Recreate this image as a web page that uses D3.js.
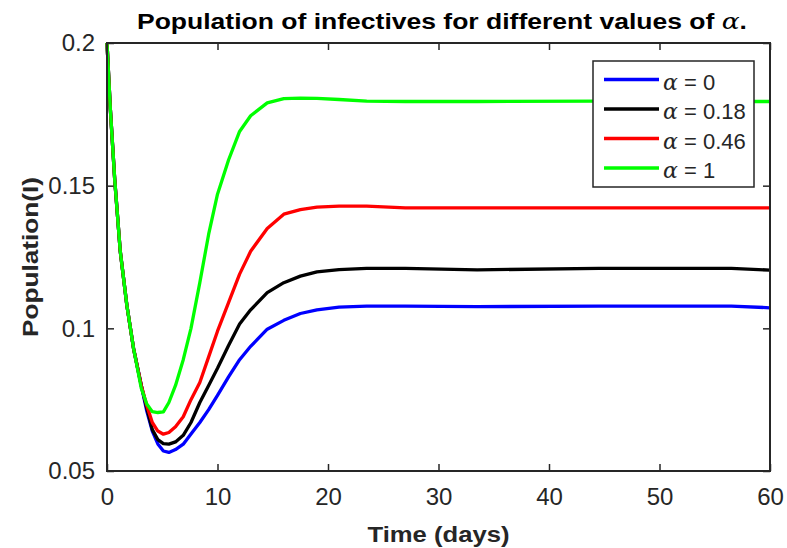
<!DOCTYPE html>
<html>
<head>
<meta charset="utf-8">
<script src="https://cdn.jsdelivr.net/npm/d3@7"></script>
<style>
  body { margin: 0; background: #fff; }
  text { font-family: "Liberation Sans", Arial, Helvetica, sans-serif; }
</style>
</head>
<body>
<svg id="chart" width="787" height="548"></svg>
<script>
// time samples (days) shared by all series
const days = [0, 0.3, 0.7, 1.2, 1.8, 2.4, 3.1, 3.6, 4.1, 4.6, 5.1, 5.6, 6.2, 6.9, 7.6, 8.4, 9.2, 10, 11, 12, 13, 14.5, 16, 17.5, 19, 21, 23.5, 27, 33.5, 44.5, 56.5, 60];

// infective population for each alpha
const alpha0 = [0.2, 0.177, 0.152, 0.127, 0.108, 0.093, 0.080, 0.071, 0.064, 0.0595, 0.057, 0.0565, 0.0575, 0.0594, 0.063, 0.067, 0.0715, 0.0765, 0.083, 0.089, 0.0937, 0.0997, 0.1028, 0.1052, 0.1065, 0.1074, 0.1078, 0.1078, 0.1076, 0.1078, 0.1078, 0.1072];
const alpha018 = [0.2, 0.177, 0.152, 0.127, 0.108, 0.093, 0.080, 0.072, 0.0645, 0.061, 0.0596, 0.0594, 0.0602, 0.0625, 0.067, 0.074, 0.080, 0.086, 0.094, 0.1015, 0.1065, 0.1125, 0.116, 0.1183, 0.1198, 0.1206, 0.121, 0.121, 0.1205, 0.121, 0.121, 0.1204];
const alpha046 = [0.2, 0.177, 0.152, 0.127, 0.108, 0.093, 0.080, 0.073, 0.067, 0.064, 0.0629, 0.0635, 0.0655, 0.069, 0.075, 0.081, 0.090, 0.099, 0.109, 0.119, 0.127, 0.135, 0.140, 0.1416, 0.1425, 0.1428, 0.1428, 0.1422, 0.1422, 0.1422, 0.1422, 0.1422];
const alpha1 = [0.2, 0.177, 0.152, 0.127, 0.108, 0.093, 0.079, 0.0735, 0.0708, 0.0705, 0.0707, 0.074, 0.080, 0.089, 0.100, 0.116, 0.133, 0.147, 0.159, 0.169, 0.1745, 0.179, 0.1805, 0.1807, 0.1806, 0.1802, 0.1796, 0.1795, 0.1795, 0.1796, 0.1795, 0.1795];

const seriesNames = ["0", "0.18", "0.46", "1"];
const seriesColors = ["#0000ff", "#000000", "#ff0000", "#00ff00"];
const seriesValues = [alpha0, alpha018, alpha046, alpha1];

const xTicks = [0, 10, 20, 30, 40, 50, 60];
const yTicks = [0.05, 0.1, 0.15, 0.2];

const svg = d3.select("#chart");
const margin = { top: 43, right: 17, bottom: 77, left: 107 };
const width = 787 - margin.left - margin.right;
const height = 548 - margin.top - margin.bottom;
const axisColor = "#262626";

const x = d3.scaleLinear().domain([0, 60]).range([0, width]);
const y = d3.scaleLinear().domain([0.05, 0.2]).range([height, 0]);

const g = svg.append("g").attr("transform", `translate(${margin.left},${margin.top})`);

// axes with inward ticks on all four sides
const styleAxis = (sel) => {
    sel.select(".domain").remove();
    sel.selectAll(".tick line").attr("stroke", axisColor).attr("stroke-width", 1.5);
    sel.selectAll(".tick text").attr("fill", axisColor).style("font-size", "24px");
};

g.append("g")
    .attr("transform", `translate(0,${height})`)
    .call(d3.axisBottom(x).tickValues(xTicks).tickSizeInner(-7).tickSizeOuter(0).tickPadding(17))
    .call(styleAxis);

g.append("g")
    .call(d3.axisTop(x).tickValues(xTicks).tickSizeInner(-7).tickSizeOuter(0).tickFormat(""))
    .call(styleAxis);

g.append("g")
    .call(d3.axisLeft(y).tickValues(yTicks).tickSizeInner(-7).tickSizeOuter(0).tickPadding(12)
        .tickFormat(d => String(+d.toFixed(2))))
    .call(styleAxis);

g.append("g")
    .attr("transform", `translate(${width},0)`)
    .call(d3.axisRight(y).tickValues(yTicks).tickSizeInner(-7).tickSizeOuter(0).tickFormat(""))
    .call(styleAxis);

// series lines
const line = d3.line()
    .x((d, i) => x(days[i]))
    .y(d => y(d));

seriesValues.forEach((vals, k) => {
    g.append("path")
        .datum(vals)
        .attr("fill", "none")
        .attr("stroke", seriesColors[k])
        .attr("stroke-width", 3.3)
        .attr("stroke-linejoin", "round")
        .attr("d", line);
});

// axes box
g.append("rect")
    .attr("width", width)
    .attr("height", height)
    .attr("fill", "none")
    .attr("stroke", axisColor)
    .attr("stroke-width", 2);

// title and axis labels (stretched a bit to the reference's wide bold face)
const title = svg.append("text")
    .attr("x", 442)
    .attr("y", 29)
    .attr("text-anchor", "middle")
    .attr("textLength", 610)
    .attr("lengthAdjust", "spacingAndGlyphs")
    .attr("fill", "#000")
    .style("font-size", "22px")
    .style("font-weight", "bold");
title.append("tspan").text("Population of infectives for different values of ");
title.append("tspan")
    .style("font-family", "'DejaVu Serif', serif")
    .style("font-style", "italic")
    .style("font-weight", "normal")
    .text("α");
title.append("tspan").text(".");

svg.append("text")
    .attr("x", margin.left + width / 2)
    .attr("y", 542)
    .attr("text-anchor", "middle")
    .attr("textLength", 142)
    .attr("lengthAdjust", "spacingAndGlyphs")
    .attr("fill", axisColor)
    .style("font-size", "22px")
    .style("font-weight", "bold")
    .text("Time (days)");

svg.append("text")
    .attr("transform", `translate(38,${margin.top + height / 2}) rotate(-90)`)
    .attr("text-anchor", "middle")
    .attr("textLength", 160)
    .attr("lengthAdjust", "spacingAndGlyphs")
    .attr("fill", axisColor)
    .style("font-size", "22px")
    .style("font-weight", "bold")
    .text("Population(I)");

// legend
const legend = svg.append("g").attr("transform", "translate(593,61)");
legend.append("rect")
    .attr("width", 161)
    .attr("height", 126)
    .attr("fill", "#fff")
    .attr("stroke", axisColor)
    .attr("stroke-width", 1.5);

const rowY = d3.scalePoint().domain(seriesNames).range([18.5, 107]);

seriesNames.forEach((name, k) => {
    const row = legend.append("g").attr("transform", `translate(0,${rowY(name)})`);
    row.append("line")
        .attr("x1", 11).attr("x2", 66)
        .attr("stroke", seriesColors[k])
        .attr("stroke-width", 3.3);
    const t = row.append("text")
        .attr("x", 70)
        .attr("y", 10)
        .attr("fill", axisColor)
        .style("font-size", "22px");
    t.append("tspan")
        .style("font-family", "'DejaVu Serif', serif")
        .style("font-style", "italic")
        .text("α");
    t.append("tspan").text(" = " + name);
});
</script>
</body>
</html>
